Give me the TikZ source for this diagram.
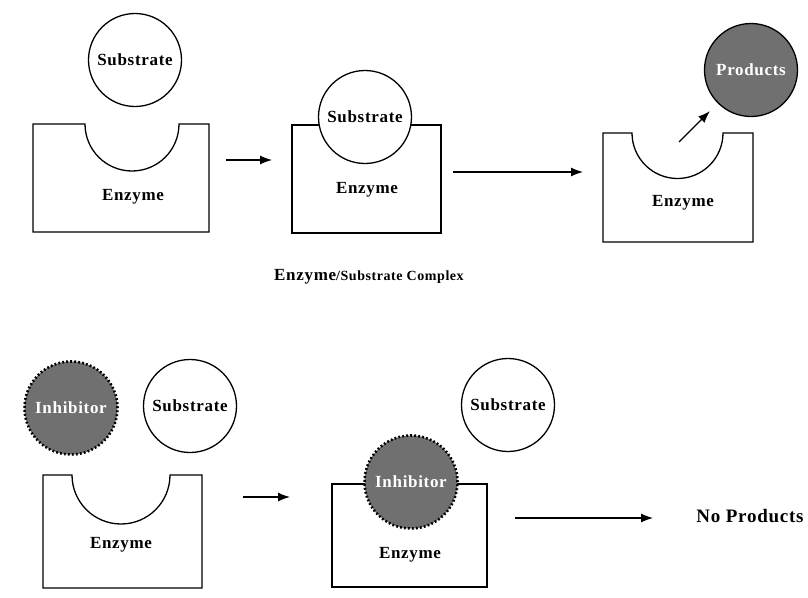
\documentclass[tikz,border=0pt]{standalone}
\usepackage{fontspec}
\setmainfont{Liberation Serif}[LetterSpace=4]
\usetikzlibrary{arrows.meta}
\definecolor{molgray}{RGB}{112,112,112}

\begin{document}
\begin{tikzpicture}
	[x=1pt,y=-1pt,line width=1.3pt,
	every node/.style={font=\fontsize{17}{19}\selectfont\bfseries},
	mol/.style={circle,draw,minimum size=93pt,inner sep=0pt},
	substrate/.style={mol,fill=white},
	product/.style={mol,fill=molgray,text=white},
	inhibitor/.style={mol,fill=molgray,text=white,line width=2.6pt,dash pattern=on 1.8pt off 2.2pt},
	react/.style={-{Latex[length=12pt,width=9pt]},line width=1.2pt}]
	\useasboundingbox (0,0) rectangle (808,597);

	% top row
	\draw (33,124) -- (85,124) arc (180:0:47) -- (209,124) -- (209,232) -- (33,232) -- cycle;
	\node (enz1) at (133,197) {Enzyme};
	\node[substrate] (sub1) at (135,60) {Substrate};

	\draw (292,125) rectangle (441,233);
	\node[substrate] (sub2) at (365,117) {Substrate};
	\node (enz2) at (367,190) {Enzyme};
	\node (cplx) at (369,277) {Enzyme{\fontsize{14}{16}\selectfont/Substrate Complex}};

	\draw (603,133) -- (632,133) arc (180:0:45.5) -- (753,133) -- (753,242) -- (603,242) -- cycle;
	\node (enz3) at (683,203) {Enzyme};
	\node[product] (prod) at (751,70) {Products};
	\coordinate (rel) at (679,142);

	\coordinate (a1s) at (226,160);
	\coordinate (a1e) at (272,160);
	\coordinate (a2s) at (453,172);
	\coordinate (a2e) at (583,172);
	\draw[react] (a1s) -- (a1e);
	\draw[react] (a2s) -- (a2e);
	\draw[react,shorten >=11pt] (rel) -- (prod);

	% bottom row
	\draw (43,475) -- (72,475) arc (180:0:49) -- (202,475) -- (202,588) -- (43,588) -- cycle;
	\node (enz4) at (121,545) {Enzyme};
	\node[inhibitor] (inh1) at (71,408) {Inhibitor};
	\node[substrate] (sub3) at (190,406) {Substrate};

	\draw (332,484) rectangle (487,587);
	\node[inhibitor] (inh2) at (411,482) {Inhibitor};
	\node (enz5) at (410,555) {Enzyme};
	\node[substrate] (sub4) at (508,405) {Substrate};
	\node[font=\fontsize{19}{21}\selectfont\bfseries] (nop) at (750,516) {No Products};

	\coordinate (a3s) at (243,497);
	\coordinate (a3e) at (290,497);
	\coordinate (a4s) at (515,518);
	\coordinate (a4e) at (653,518);
	\draw[react] (a3s) -- (a3e);
	\draw[react] (a4s) -- (a4e);

\end{tikzpicture}
\end{document}
